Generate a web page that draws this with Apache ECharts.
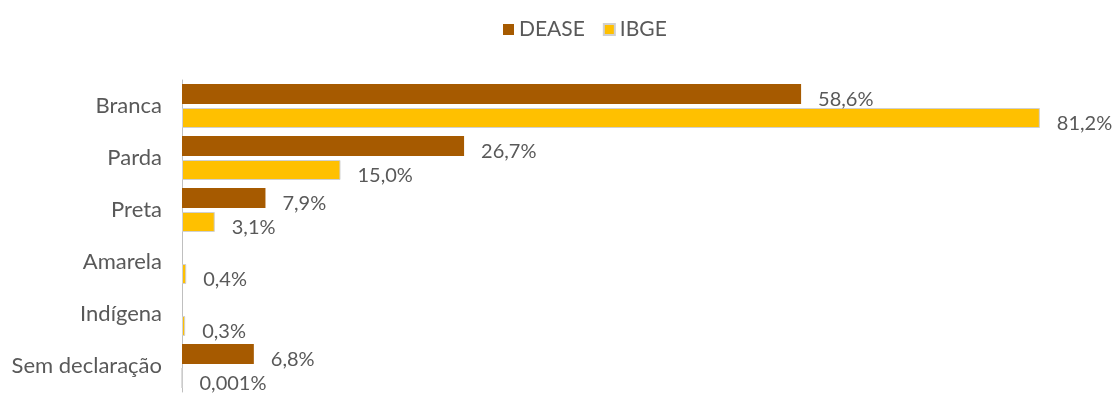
<!DOCTYPE html>
<html>
<head>
<meta charset="utf-8">
<script src="https://cdn.jsdelivr.net/npm/echarts@6/dist/echarts.min.js"></script>
<style>
  html, body { margin: 0; padding: 0; background: #fff; }
  #chart { width: 1119px; height: 394px; }
</style>
</head>
<body>
<div id="chart"></div>
<script>
// categorias e valores (%)
var categorias = ["Branca", "Parda", "Preta", "Amarela", "Indígena", "Sem declaração"];
var dease = [58.6, 26.7, 7.9, null, null, 6.8];
var ibge = [81.2, 15.0, 3.1, 0.4, 0.3, 0.001];

function fmt(p) {
  var v = p.value;
  var s = v >= 0.1 ? v.toFixed(1) : String(v);
  return s.replace(".", ",") + "%";
}

var chart = echarts.init(document.getElementById("chart"));
var labelStyle = {
  show: true,
  position: "right",
  distance: 17,
  offset: [0, 6],
  color: "#595959",
  fontSize: 20,
  fontFamily: "Lato",
  formatter: fmt
};

chart.setOption({
  animation: false,
  legend: {
    top: 14,
    left: 498,
    icon: "rect",
    itemWidth: 11,
    itemHeight: 11,
    itemGap: 18,
    textStyle: { color: "#595959", fontSize: 21, fontFamily: "Lato" },
    data: ["DEASE", "IBGE"]
  },
  grid: { left: 182, right: 39, top: 80, bottom: 2 },
  xAxis: {
    type: "value",
    min: 0,
    max: 85,
    show: false
  },
  yAxis: {
    type: "category",
    inverse: true,
    data: categorias,
    axisLine: { lineStyle: { color: "#bfbfbf" } },
    axisTick: { length: 5, lineStyle: { color: "#bfbfbf" } },
    axisLabel: { color: "#595959", fontSize: 22, fontFamily: "Lato", margin: 20 }
  },
  series: [
    {
      name: "DEASE",
      type: "bar",
      data: dease,
      barWidth: 20,
      barGap: "20%",
      itemStyle: { color: "#A65A00" },
      label: labelStyle
    },
    {
      name: "IBGE",
      type: "bar",
      data: ibge,
      barWidth: 20,
      itemStyle: { color: "#FFC000", borderColor: "#d0d0d0", borderWidth: 1 },
      label: labelStyle
    }
  ]
});
</script>
</body>
</html>
